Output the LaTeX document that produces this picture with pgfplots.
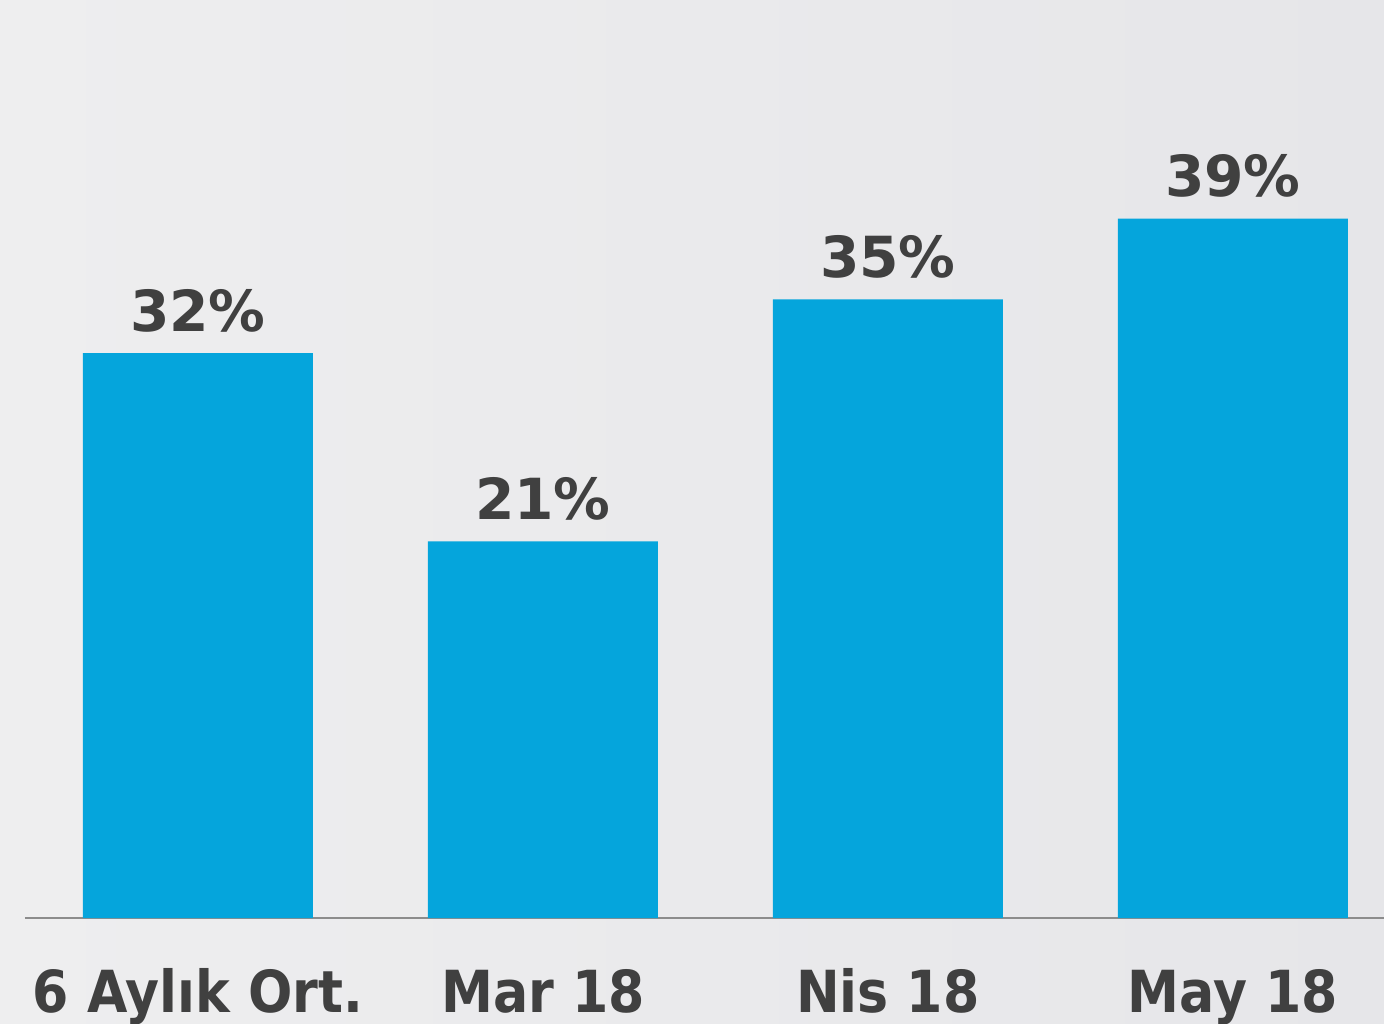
\documentclass[border=0pt]{standalone}
\usepackage{fontspec}
\setmainfont{DejaVu Sans}
\newfontfamily\condfont{DejaVu Sans Condensed}
\usepackage{pgfplots}
\pgfplotsset{compat=1.18}

\definecolor{barblue}{HTML}{05A5DC}
\definecolor{txtgray}{HTML}{404040}
\definecolor{bgA}{HTML}{EEEEEF}
\definecolor{bgB}{HTML}{E6E6E9}
\definecolor{axgray}{HTML}{8C8C8C}

\newlength{\px}
\setlength{\px}{0.3pt}

\begin{document}
\begin{tikzpicture}
% background, sets the page size
\shade[shading angle=135, left color=bgA, right color=bgB, use as bounding box]
    (0,0) rectangle (1384\px,1023\px);

\begin{axis}[
    at={(25\px,105\px)}, anchor=south west,
    scale only axis,
    width=1359\px, height=918\px,
    ybar, bar width=230\px,
    xmin=-0.501, xmax=3.438,
    ymin=0, ymax=51.2,
    axis x line=bottom, hide y axis,
    axis line style={-, axgray, line width=2\px},
    xtick=data, xticklabels={6 Aylık Ort., Mar 18, Nis 18, May 18},
    major tick length=0pt,
    xticklabel style={font=\condfont\bfseries\fontsize{17.4}{20}\selectfont,
        text=txtgray, anchor=base, yshift=-94\px, inner sep=0pt},
    point meta=explicit symbolic,
    nodes near coords={\pgfplotspointmeta\%},
    every node near coord/.append style={font=\bfseries\fontsize{17}{19}\selectfont,
        text=txtgray, anchor=base, yshift=22\px, inner sep=0pt},
    clip=false,
]
\addplot[fill=barblue, draw=none] coordinates {(0,31.5)[32] (1,21)[21] (2,34.5)[35] (3,39)[39]};
\end{axis}
\end{tikzpicture}
\end{document}
